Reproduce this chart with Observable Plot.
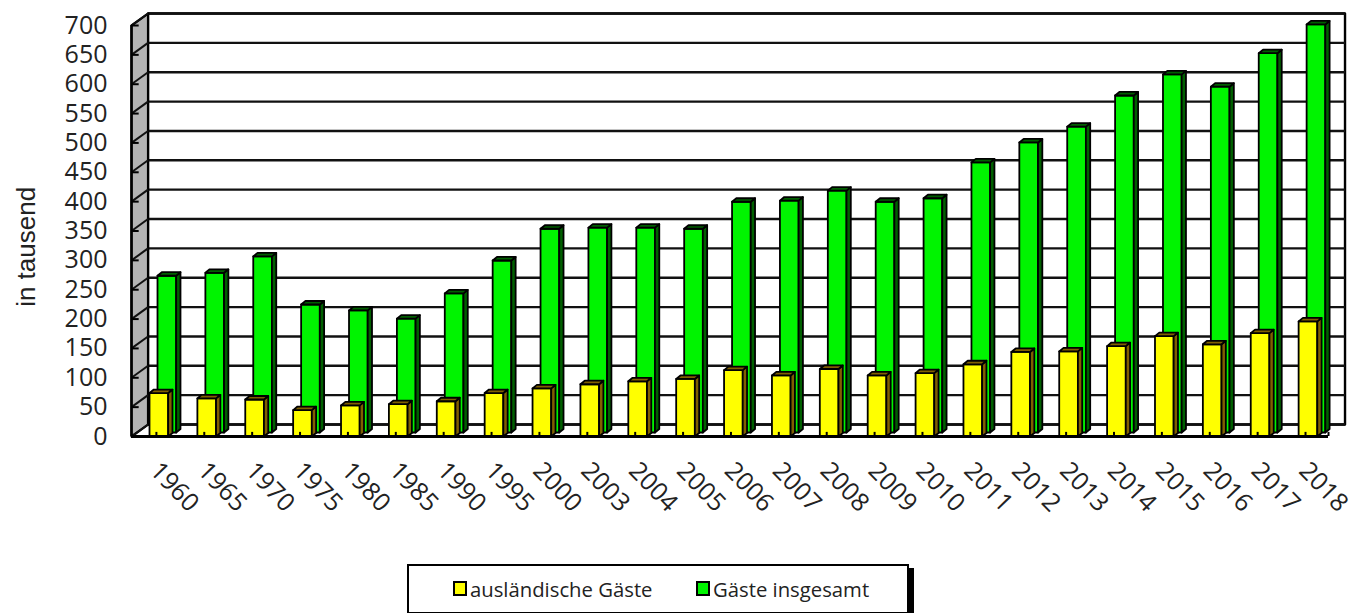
<!DOCTYPE html>
<html><head><meta charset="utf-8">
<script src="https://cdn.jsdelivr.net/npm/d3@7"></script>
<script src="https://cdn.jsdelivr.net/npm/@observablehq/plot@0.6"></script>
<style>
html,body{margin:0;padding:0;background:#fff;overflow:hidden}
#c{position:relative;width:1350px;height:613px}
#c svg{display:block;overflow:visible}
#lg{position:absolute;left:407px;top:564px;width:498px;height:46px;border:2px solid #000;background:#fff;box-shadow:5px 4px 0 #000;font:20.3px "Open Sans",sans-serif;color:#222}
#lg span{position:absolute;top:10px;white-space:nowrap;line-height:27px}
#lg i{position:absolute;top:15px;width:10px;height:11px;border:2px solid #000}
</style></head><body><div id="c"></div>
<script>
const years = ["1960","1965","1970","1975","1980","1985","1990","1995","2000","2003","2004","2005","2006","2007","2008","2009","2010","2011","2012","2013","2014","2015","2016","2017","2018"];
const total = [267,272,300,218,208,194,237,293,347,349,349,347,393,395,412,393,399,460,494,521,574,610,589,646,695];
const foreign = [74,65,63,45,53,55,60,74,82,89,94,98,113,104,115,104,108,123,144,145,154,171,157,176,196];
const yTicks = d3.range(0,701,50);

// depth of the 3D box in scale units
const wx=.345, wy=20.4;
const barW=.39, capX=.09, capY=6;
const yelOff=.376, grnOff=.543, grnBase=6.8;
const faces=(vals,off,base)=>{
  const f=[],s=[],t=[];
  vals.forEach((v,i)=>{
    const a=i+off,b=a+barW,top=v+base;
    const P=(arr,pts)=>pts.forEach(([x,y])=>arr.push({id:i,x,y}));
    P(f,[[a,base],[b,base],[b,top],[a,top]]);
    P(s,[[b,base],[b+capX,base+capY],[b+capX,top+capY],[b,top]]);
    P(t,[[a,top],[a+capX,top+capY],[b+capX,top+capY],[b,top]]);
  });
  return {f,s,t};
};
const poly=(pts,fill,sw=1.8)=>Plot.line(pts,{x:"x",y:"y",z:"id",fill,stroke:"#000",strokeWidth:sw,curve:"linear-closed"});
const G=faces(total,grnOff,grnBase), Y=faces(foreign,yelOff,0);
const n=years.length;
const wall=[{id:0,x:0,y:0},{id:0,x:wx,y:wy},{id:0,x:wx,y:700+wy},{id:0,x:0,y:700}];
const back=[{id:0,x:wx,y:wy},{id:0,x:n+wx,y:wy},{id:0,x:n+wx,y:700+wy},{id:0,x:wx,y:700+wy}];
const xTicks=[...d3.range(n).map(i=>i+.52),n];
const font="Open Sans";

const chart=Plot.plot({
  width:1350,height:560,marginLeft:131,marginRight:22,marginTop:25,marginBottom:124,
  x:{domain:[0,n],axis:null},
  y:{domain:[0,700],axis:null},
  style:{background:"transparent"},
  marks:[
    poly(back,"#fff",2.4),
    Plot.link(yTicks,{x1:()=>wx,x2:()=>n+wx,y1:d=>d+wy,y2:d=>d+wy,stroke:"#111",strokeWidth:2.4}),
    poly(wall,"#b4b4b4",2.2),
    Plot.link(yTicks,{x1:()=>0,x2:()=>wx,y1:d=>d,y2:d=>d+wy,stroke:"#111",strokeWidth:2}),
    poly(G.f,"#00f400"),poly(G.s,"#006000"),poly(G.t,"#006000"),
    poly(Y.f,"#ffff00"),poly(Y.s,"#806000"),poly(Y.t,"#806000"),
    Plot.ruleY([0],{x1:0,x2:n,stroke:"#000",strokeWidth:2.8}),
    Plot.ruleX([0],{y1:0,y2:700,stroke:"#000",strokeWidth:2.4}),
    Plot.ruleX(xTicks,{y1:0,y2:7,stroke:"#000",strokeWidth:2}),
    Plot.link(yTicks,{x1:()=>0,x2:()=>.15,y1:d=>d,y2:d=>d,stroke:"#000",strokeWidth:2}),
    Plot.axisY(yTicks,{x:0,anchor:"left",tickSize:0,tickPadding:24,fontSize:25,fontFamily:font,fill:"#222",label:null,tickFormat:d=>d}),
    Plot.text(years,{x:(d,i)=>i+.48,y:()=>0,text:d=>d,rotate:46,textAnchor:"start",dy:30,fontSize:25,fontFamily:font,fill:"#222"}),
    Plot.text(["in tausend"],{x:()=>0,y:()=>323,dx:-105,rotate:-90,fontSize:26,fontFamily:"Liberation Sans",fill:"#222"})
  ]
});
const c=document.getElementById("c");
c.appendChild(chart);
const lg=document.createElement("div");lg.id="lg";
lg.innerHTML='<i style="left:44px;background:#ff0"></i><span style="left:61px">ausländische Gäste</span><i style="left:287px;background:#00f400"></i><span style="left:304px">Gäste insgesamt</span>';
c.appendChild(lg);
</script></body></html>
